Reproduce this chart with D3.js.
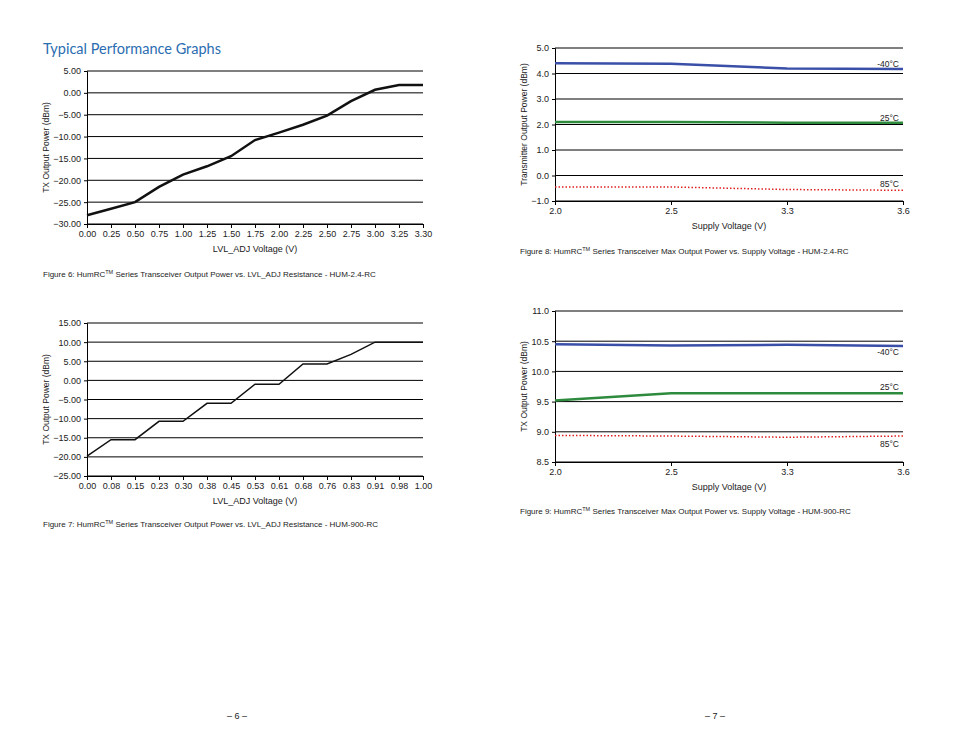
<!DOCTYPE html>
<html><head><meta charset="utf-8">
<script src="https://cdn.jsdelivr.net/npm/d3@7"></script>
<style>
body{margin:0;background:#fff;font-family:"Liberation Sans",Arial,sans-serif;}
svg text{font-family:"Liberation Sans",Arial,sans-serif;fill:#222;}
</style></head><body>
<svg id="page" width="954" height="738"></svg>
<script>
var lvl24X = ["0.00","0.25","0.50","0.75","1.00","1.25","1.50","1.75","2.00","2.25","2.50","2.75","3.00","3.25","3.30"];
var lvl24Y = [-28, -26.5, -25, -21.5, -18.7, -16.8, -14.5, -10.8, -9.1, -7.3, -5.2, -1.9, 0.7, 1.8, 1.8];
var lvl24Ticks = [5, 0, -5, -10, -15, -20, -25, -30];

var lvl900X = ["0.00","0.08","0.15","0.23","0.30","0.38","0.45","0.53","0.61","0.68","0.76","0.83","0.91","0.98","1.00"];
var lvl900Y = [-19.8, -15.5, -15.5, -10.7, -10.7, -6, -6, -1, -1, 4.3, 4.3, 6.8, 10, 10, 10];
var lvl900Ticks = [15, 10, 5, 0, -5, -10, -15, -20, -25];

var supplyX = ["2.0","2.5","3.3","3.6"];
var hum24Minus40 = [4.4, 4.38, 4.2, 4.18];
var hum24Plus25 = [2.1, 2.1, 2.07, 2.07];
var hum24Plus85 = [-0.45, -0.45, -0.55, -0.58];
var hum24Ticks = [5, 4, 3, 2, 1, 0, -1];

var hum900Minus40 = [10.45, 10.43, 10.44, 10.42];
var hum900Plus25 = [9.52, 9.64, 9.64, 9.64];
var hum900Plus85 = [8.94, 8.93, 8.91, 8.93];
var hum900Ticks = [11, 10.5, 10, 9.5, 9, 8.5];

var svg = d3.select('#page');

svg.append("text").attr("x", 43).attr("y", 54).attr("font-size", 14.5)
    .style("fill", "#2a6db0").style("font-family", "Lato, 'Open Sans', sans-serif")
    .text("Typical Performance Graphs");

function chart(opt) {
    var g = svg.append("g");
    var x = d3.scalePoint().domain(opt.cats).range([opt.left, opt.right]);
    var y = d3.scaleLinear().domain([opt.ticks[opt.ticks.length - 1], opt.ticks[0]])
        .range([opt.bottom, opt.top]);

    // grid lines
    g.selectAll(".grid").data(opt.ticks).enter().append("line")
        .attr("x1", opt.left).attr("x2", opt.right)
        .attr("y1", function(d) { return y(d); }).attr("y2", function(d) { return y(d); })
        .attr("stroke", "#000").attr("stroke-width", 1);

    var yAxis = d3.axisLeft(y).tickValues(opt.ticks).tickSize(3)
        .tickFormat(d3.format(opt.fmt));
    g.append("g").attr("transform", "translate(" + opt.left + ",0)").call(yAxis)
        .call(function(a) { a.selectAll("text").attr("font-size", 9).style("fill", "#222"); a.select(".domain").attr("stroke", "#000"); });

    var xAxis = d3.axisBottom(x).tickSize(4).tickSizeOuter(0);
    g.append("g").attr("transform", "translate(0," + opt.bottom + ")").call(xAxis)
        .call(function(a) { a.selectAll("text").attr("font-size", 9).style("fill", "#222"); a.select(".domain").attr("stroke", "#000"); });

    g.append("text").attr("x", (opt.left + opt.right) / 2).attr("y", opt.bottom + 28)
        .attr("text-anchor", "middle").attr("font-size", 9).text(opt.xLabel);
    g.append("text").attr("transform", "translate(" + opt.yLabelX + "," + ((opt.top + opt.bottom) / 2) + ") rotate(-90)")
        .attr("text-anchor", "middle").attr("font-size", 8.5).text(opt.yLabel);

    var line = d3.line().x(function(d, i) { return x(opt.cats[i]); }).y(function(d) { return y(d); });
    opt.series.forEach(function(s) {
        g.append("path").datum(s.values).attr("d", line).attr("fill", "none")
            .attr("stroke", s.color).attr("stroke-width", s.width)
            .attr("stroke-dasharray", s.dash || null);
        if (s.label) {
            g.append("text").attr("x", opt.right - 4).attr("y", s.labelY)
                .attr("text-anchor", "end").attr("font-size", 8.5).text(s.label);
        }
    });

    var cap = g.append("text").attr("x", opt.capX).attr("y", opt.capY).attr("font-size", 8)
        .style("font-family", "'Liberation Sans Narrow','Liberation Sans',sans-serif");
    cap.append("tspan").text(opt.capA);
    cap.append("tspan").attr("font-size", 5.5).attr("dy", -3).text("TM");
    cap.append("tspan").attr("dy", 3).text(opt.capB);
}

chart({cats: lvl24X, ticks: lvl24Ticks, fmt: ".2f", left: 87, right: 423, top: 71, bottom: 224,
    xLabel: "LVL_ADJ Voltage (V)", yLabel: "TX Output Power (dBm)", yLabelX: 49,
    series: [{values: lvl24Y, color: "#111", width: 2.5}],
    capX: 43, capY: 277, capA: "Figure 6: HumRC", capB: " Series Transceiver Output Power vs. LVL_ADJ Resistance - HUM-2.4-RC"});

chart({cats: lvl900X, ticks: lvl900Ticks, fmt: ".2f", left: 87, right: 423, top: 323, bottom: 476,
    xLabel: "LVL_ADJ Voltage (V)", yLabel: "TX Output Power (dBm)", yLabelX: 49,
    series: [{values: lvl900Y, color: "#111", width: 1.5}],
    capX: 43, capY: 527, capA: "Figure 7: HumRC", capB: " Series Transceiver Output Power vs. LVL_ADJ Resistance - HUM-900-RC"});

chart({cats: supplyX, ticks: hum24Ticks, fmt: ".1f", left: 555, right: 903, top: 48, bottom: 201,
    xLabel: "Supply Voltage (V)", yLabel: "Transmitter Output Power (dBm)", yLabelX: 527,
    series: [
        {values: hum24Minus40, color: "#3a4fa8", width: 2.5, label: "-40°C", labelY: 67},
        {values: hum24Plus25, color: "#2e8b3e", width: 2.5, label: "25°C", labelY: 121},
        {values: hum24Plus85, color: "#e02020", width: 1.5, dash: "1.5,2", label: "85°C", labelY: 187}],
    capX: 520, capY: 254, capA: "Figure 8: HumRC", capB: " Series Transceiver Max Output Power vs. Supply Voltage - HUM-2.4-RC"});

chart({cats: supplyX, ticks: hum900Ticks, fmt: ".1f", left: 555, right: 903, top: 311, bottom: 462,
    xLabel: "Supply Voltage (V)", yLabel: "TX Output Power (dBm)", yLabelX: 527,
    series: [
        {values: hum900Minus40, color: "#3a4fa8", width: 2.5, label: "-40°C", labelY: 355},
        {values: hum900Plus25, color: "#2e8b3e", width: 2.5, label: "25°C", labelY: 390},
        {values: hum900Plus85, color: "#e02020", width: 1.5, dash: "1.5,2", label: "85°C", labelY: 447}],
    capX: 520, capY: 514, capA: "Figure 9: HumRC", capB: " Series Transceiver Max Output Power vs. Supply Voltage - HUM-900-RC"});

svg.append("text").attr("x", 237).attr("y", 719).attr("text-anchor", "middle").attr("font-size", 9).text("– 6 –");
svg.append("text").attr("x", 715).attr("y", 719).attr("text-anchor", "middle").attr("font-size", 9).text("– 7 –");
</script>
</body></html>
